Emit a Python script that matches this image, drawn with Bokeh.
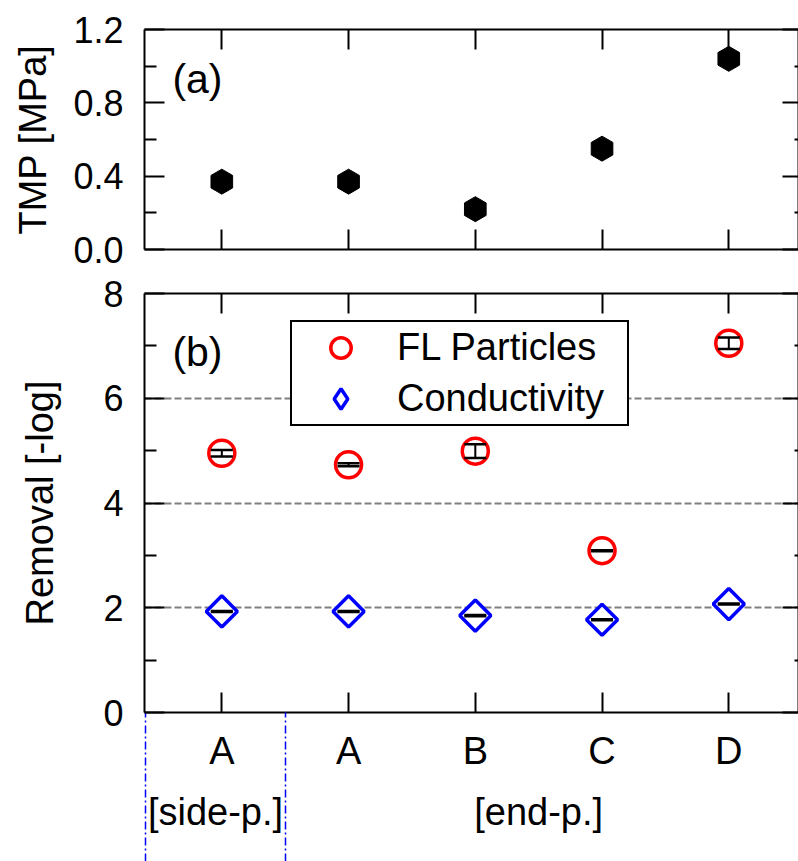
import numpy as np
from bokeh.plotting import figure
from bokeh.layouts import column
from bokeh.models import (Range1d, LinearAxis, FixedTicker, PrintfTickFormatter,
                          Whisker, TeeHead, ColumnDataSource, Legend, LegendItem, Label)
from bokeh.embed import file_html
from bokeh.resources import INLINE

# ---------------- data ----------------
categories = ["A", "A", "B", "C", "D"]
groups = ["[side-p.]", "[end-p.]"]
group_bounds = [0.4, 1.5, 5.5]
tmp_mpa = [0.37, 0.37, 0.22, 0.55, 1.04]
fl_particles = [4.95, 4.73, 4.99, 3.09, 7.05]
fl_err = [0.06, 0.03, 0.13, 0.01, 0.11]
conductivity = [1.93, 1.93, 1.85, 1.77, 2.07]
cond_err = [0.01, 0.01, 0.01, 0.01, 0.01]
tmp_ticks = [0.0, 0.4, 0.8, 1.2]
tmp_minor = [0.2, 0.6, 1.0]
rem_ticks = [0, 2, 4, 6, 8]
rem_minor = [1, 3, 5, 7]
rem_grid = [2, 4, 6]

FONT = "Liberation Sans"
xs = list(range(1, len(categories) + 1))
group_centers = [(group_bounds[i] + group_bounds[i + 1]) / 2 for i in range(len(groups))]
XR = (0.39, 5.55)
BOTTOM = 149


def style_axis(ax, major_in, minor_in, labels=False, size="36px", standoff=20, ticks=()):
    ax.axis_line_width = 2
    ax.axis_line_color = "black"
    ax.major_tick_in = major_in
    ax.major_tick_out = 0
    ax.minor_tick_in = minor_in
    ax.minor_tick_out = 0
    ax.major_tick_line_width = 2
    ax.minor_tick_line_width = 2
    ax.major_tick_line_color = "black"
    ax.minor_tick_line_color = "black"
    ax.major_label_text_font = FONT
    ax.major_label_text_color = "black"
    ax.axis_label_text_font = FONT
    ax.axis_label_text_font_style = "normal"
    ax.axis_label_text_color = "black"
    if labels:
        ax.major_label_text_font_size = size
        ax.major_label_standoff = standoff
    else:
        ax.major_label_text_font_size = "1px"
        ax.major_label_standoff = 0
        ax.major_label_overrides = {t: "" for t in ticks}


# ---------------- top panel (a) ----------------
p1 = figure(width=798, height=271, x_range=Range1d(*XR), y_range=Range1d(0, 1.2),
            output_backend="svg", toolbar_location=None,
            min_border_left=144, min_border_right=0, min_border_top=29, min_border_bottom=22)
p1.grid.visible = False
p1.outline_line_color = None

bx = p1.xaxis[0]
bx.ticker = FixedTicker(ticks=xs, minor_ticks=[])
style_axis(bx, 20, 0, ticks=xs)

ly = p1.yaxis[0]
ly.ticker = FixedTicker(ticks=tmp_ticks, minor_ticks=tmp_minor)
ly.formatter = PrintfTickFormatter(format="%.1f")
style_axis(ly, 20, 12, labels=True, size="36px", standoff=21)
ly.axis_label = "TMP [MPa]"
ly.axis_label_text_font_size = "38px"
ly.axis_label_standoff = 16

ax_top1 = LinearAxis(ticker=FixedTicker(ticks=xs, minor_ticks=[]))
style_axis(ax_top1, 20, 0, ticks=xs)
p1.add_layout(ax_top1, "above")
ax_r1 = LinearAxis(ticker=FixedTicker(ticks=tmp_ticks, minor_ticks=tmp_minor))
style_axis(ax_r1, 16, 4, ticks=tmp_ticks)
p1.add_layout(ax_r1, "right")

p1.scatter(xs, tmp_mpa, marker="hex", angle=np.pi / 2, size=25,
           fill_color="black", line_color="black")
p1.add_layout(Label(x=0.61, y=0.93, text="(a)", text_font=FONT, text_font_size="41px",
                    text_baseline="middle", text_align="left", text_color="black"))

# ---------------- bottom panel (b) ----------------
p2 = figure(width=798, height=590, x_range=p1.x_range, y_range=Range1d(0, 8),
            output_backend="svg", toolbar_location=None,
            min_border_left=144, min_border_right=0, min_border_top=22, min_border_bottom=BOTTOM)
p2.xgrid.visible = False
p2.ygrid.ticker = FixedTicker(ticks=rem_grid)
p2.ygrid.grid_line_color = "#7f7f7f"
p2.ygrid.grid_line_width = 2
p2.ygrid.grid_line_dash = "7 3"
p2.outline_line_color = None

bx2 = p2.xaxis[0]
bx2.ticker = FixedTicker(ticks=xs, minor_ticks=group_bounds[:-1])
style_axis(bx2, 20, 0, labels=True, size="38px", standoff=17 - BOTTOM)
bx2.major_label_overrides = {xi: c for xi, c in zip(xs, categories)}
bx2.minor_tick_in = 0
bx2.minor_tick_out = BOTTOM
bx2.minor_tick_line_color = "blue"
bx2.minor_tick_line_width = 1.5
bx2.minor_tick_line_dash = "8 3 2 3"

gx = LinearAxis(ticker=FixedTicker(ticks=group_centers, minor_ticks=[]))
style_axis(gx, 0, 0, labels=True, size="38px", standoff=16)
gx.axis_line_color = None
gx.major_tick_line_color = None
gx.major_label_overrides = {c: g for c, g in zip(group_centers, groups)}
p2.add_layout(gx, "below")

ly2 = p2.yaxis[0]
ly2.ticker = FixedTicker(ticks=rem_ticks, minor_ticks=rem_minor)
style_axis(ly2, 20, 12, labels=True, size="36px", standoff=21)
ly2.axis_label = "Removal [-log]"
ly2.axis_label_text_font_size = "38px"
ly2.axis_label_standoff = 39

ax_top2 = LinearAxis(ticker=FixedTicker(ticks=xs, minor_ticks=[]))
style_axis(ax_top2, 20, 0, ticks=xs)
p2.add_layout(ax_top2, "above")
ax_r2 = LinearAxis(ticker=FixedTicker(ticks=rem_ticks, minor_ticks=rem_minor))
style_axis(ax_r2, 16, 4, ticks=rem_ticks)
p2.add_layout(ax_r2, "right")

r_fl = p2.scatter(xs, fl_particles, marker="circle", size=26, line_color="red",
                  line_width=3.5, fill_color="white")
r_cd = p2.scatter(xs, conductivity, marker="square", angle=np.pi / 4, size=22,
                  line_color="blue", line_width=3.5, fill_color="white")
# legend swatch for the diamonds (legend glyphs are drawn unrotated); hidden in the plot
r_cd_key = p2.scatter(xs, conductivity, marker="diamond", size=30, line_color="blue",
                      line_width=3.5, fill_color="white", visible=False)

src_fl = ColumnDataSource(dict(base=xs,
                               upper=[v + e for v, e in zip(fl_particles, fl_err)],
                               lower=[v - e for v, e in zip(fl_particles, fl_err)]))
src_cd = ColumnDataSource(dict(base=xs,
                               upper=[v + e for v, e in zip(conductivity, cond_err)],
                               lower=[v - e for v, e in zip(conductivity, cond_err)]))
for src in (src_fl, src_cd):
    p2.add_layout(Whisker(source=src, base="base", upper="upper", lower="lower",
                          level="overlay", line_color="black", line_width=2,
                          upper_head=TeeHead(size=22, line_width=2.5, line_color="black"),
                          lower_head=TeeHead(size=22, line_width=2.5, line_color="black")))

legend = Legend(items=[LegendItem(label="FL Particles", renderers=[r_fl]),
                       LegendItem(label="Conductivity", renderers=[r_cd_key])],
                location=(146, 286), glyph_width=97, glyph_height=51, spacing=0,
                padding=0, label_standoff=8, label_width=230,
                label_text_font=FONT, label_text_font_size="38px", label_text_color="black",
                border_line_color="black", border_line_width=2, border_line_alpha=1,
                background_fill_color="white", background_fill_alpha=1,
                inactive_fill_alpha=0)
p2.add_layout(legend)
p2.add_layout(Label(x=0.61, y=6.89, text="(b)", text_font=FONT, text_font_size="41px",
                    text_baseline="middle", text_align="left", text_color="black"))

layout = column(p1, p2, spacing=0)
open("out.html", "w").write(file_html(layout, INLINE))
